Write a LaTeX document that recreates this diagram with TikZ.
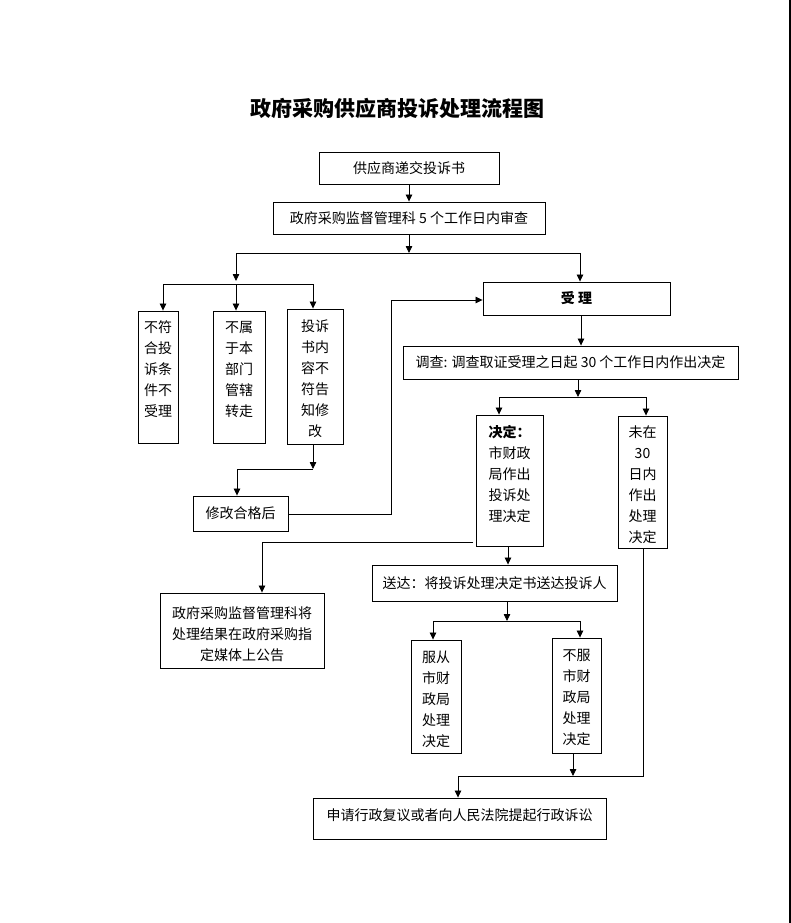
\documentclass[tikz,border=0pt]{standalone}
\usepackage{fontspec}
\setmainfont{Noto Sans CJK SC}
\usetikzlibrary{arrows.meta}
\begin{document}
\begin{tikzpicture}[x=1pt,y=-1pt,
  box/.style={draw, line width=0.9pt, inner sep=0pt, font=\fontsize{14}{21}\selectfont, align=center},
  txt/.style={inner sep=0pt, font=\fontsize{14}{21}\selectfont, align=center},
  conn/.style={line width=0.8pt},
  arr/.style={conn, -{Triangle[length=7pt,width=6.5pt]}}]
\useasboundingbox (0,0) rectangle (791,923);
\fill[white] (0,0) rectangle (791,923);
\draw[line width=2pt] (790,0) -- (790,923);

\node[inner sep=0pt, font=\fontsize{21}{24}\selectfont\bfseries] (title) at (397,108) {政府采购供应商投诉处理流程图};

\node[box, minimum width=180pt, minimum height=32pt] (n1) at (409,168) {供应商递交投诉书};
\node[box, minimum width=272pt, minimum height=32pt] (n2) at (409,218) {政府采购监督管理科 5 个工作日内审查};
\node[box, minimum width=187pt, minimum height=33pt, font=\fontsize{14}{21}\selectfont\bfseries] (nacc) at (576.5,298.5) {受 理};

\node[box, minimum width=40pt, minimum height=132pt] (nA) at (158,377) {};
\node[txt] (tA) at (158,369) {不符\\合投\\诉条\\件不\\受理};
\node[box, minimum width=52pt, minimum height=132pt] (nB) at (239,377) {};
\node[txt] (tB) at (239,369) {不属\\于本\\部门\\管辖\\转走};
\node[box, minimum width=56pt, minimum height=135pt] (nC) at (315,376.5) {};
\node[txt] (tC) at (315,378.5) {投诉\\书内\\容不\\符告\\知修\\改};
\node[box, minimum width=95pt, minimum height=35pt] (nfix) at (240.5,513.5) {修改合格后};

\node[box, minimum width=335pt, minimum height=33pt] (ninv) at (570.5,362.5) {调查: 调查取证受理之日起 30 个工作日内作出决定};
\node[box, minimum width=67pt, minimum height=131pt] (ndec) at (509.5,480.5) {};
\node[txt, align=left] (tdec) at (509.5,474) {\textbf{决定：}\\市财政\\局作出\\投诉处\\理决定};
\node[box, minimum width=49pt, minimum height=132pt] (nnot) at (642.5,482) {};
\node[txt] (tnot) at (642.5,484.5) {未在\\30\\日内\\作出\\处理\\决定};

\node[box, minimum width=164pt, minimum height=75pt] (npub) at (242,630.5) {};
\node[txt] (tpub) at (242,634) {政府采购监督管理科将\\处理结果在政府采购指\\定媒体上公告};
\node[box, minimum width=245pt, minimum height=36pt] (nsend) at (494.5,583) {送达：将投诉处理决定书送达投诉人};
\node[box, minimum width=50pt, minimum height=113pt] (nfu) at (436,696.5) {};
\node[txt] (tfu) at (436,699) {服从\\市财\\政局\\处理\\决定};
\node[box, minimum width=49pt, minimum height=115pt] (nbufu) at (576.5,695.5) {};
\node[txt] (tbufu) at (576.5,697) {不服\\市财\\政局\\处理\\决定};
\node[box, minimum width=293pt, minimum height=41pt] (napp) at (459.5,818.5) {};
\node[txt] (tapp) at (459.5,815) {申请行政复议或者向人民法院提起行政诉讼};

% coordinates
\coordinate (jL) at (236,253);
\coordinate (jR) at (580,253);
\coordinate (k0) at (236,281);
\coordinate (kL) at (163,284);
\coordinate (kM) at (236,284);
\coordinate (kR) at (313,284);
\coordinate (mL) at (237,469);
\coordinate (mR) at (313,469);
\coordinate (r1) at (391,514);
\coordinate (r2) at (391,300);
\coordinate (s0) at (578,397);
\coordinate (sL) at (499,397);
\coordinate (sR) at (646,397);
\coordinate (p0) at (473,542);
\coordinate (p1) at (262,542);
\coordinate (d0) at (508,547);
\coordinate (t0) at (507,621);
\coordinate (tL) at (433,621);
\coordinate (tR) at (580,621);
\coordinate (u0) at (573,776);
\coordinate (uL) at (458,776);
\coordinate (uR) at (644,776);

% connectors
\draw[arr] (n1.south) -- (n2.north);
\draw[arr] (n2.south) -- (n2.south |- jL);
\draw[conn] (jL) -- (jR);
\draw[arr] (jR) -- (jR |- nacc.north);
\draw[arr] (jL) -- (k0);
\draw[conn] (kL) -- (kR);
\draw[arr] (kL) -- (kL |- nA.north);
\draw[arr] (kM) -- (kM |- nB.north);
\draw[arr] (kR) -- (kR |- nC.north);
\draw[arr] (mR |- nC.south) -- (mR);
\draw[conn] (mL) -- (mR);
\draw[arr] (mL) -- (mL |- nfix.north);
\draw[arr] (nfix.east |- r1) -- (r1) -- (r2) -- (r2 -| nacc.west);
\draw[arr] (nacc.south -| 581,0) -- (ninv.north -| 581,0);
\draw[arr] (s0 |- ninv.south) -- (s0);
\draw[conn] (sL) -- (sR);
\draw[arr] (sL) -- (sL |- ndec.north);
\draw[arr] (sR) -- (sR |- nnot.north);
\draw[arr] (p0) -- (p1) -- (p1 |- npub.north);
\draw[arr] (d0 |- ndec.south) -- (d0 |- nsend.north);
\draw[arr] (t0 |- nsend.south) -- (t0);
\draw[conn] (tL) -- (tR);
\draw[arr] (tL) -- (tL |- nfu.north);
\draw[arr] (tR) -- (tR |- nbufu.north);
\draw[arr] (u0 |- nbufu.south) -- (u0);
\draw[conn] (nnot.south -| 643,0) -- (643,776) -- (uL);
\draw[arr] (uL) -- (uL |- napp.north);
\end{tikzpicture}
\end{document}
